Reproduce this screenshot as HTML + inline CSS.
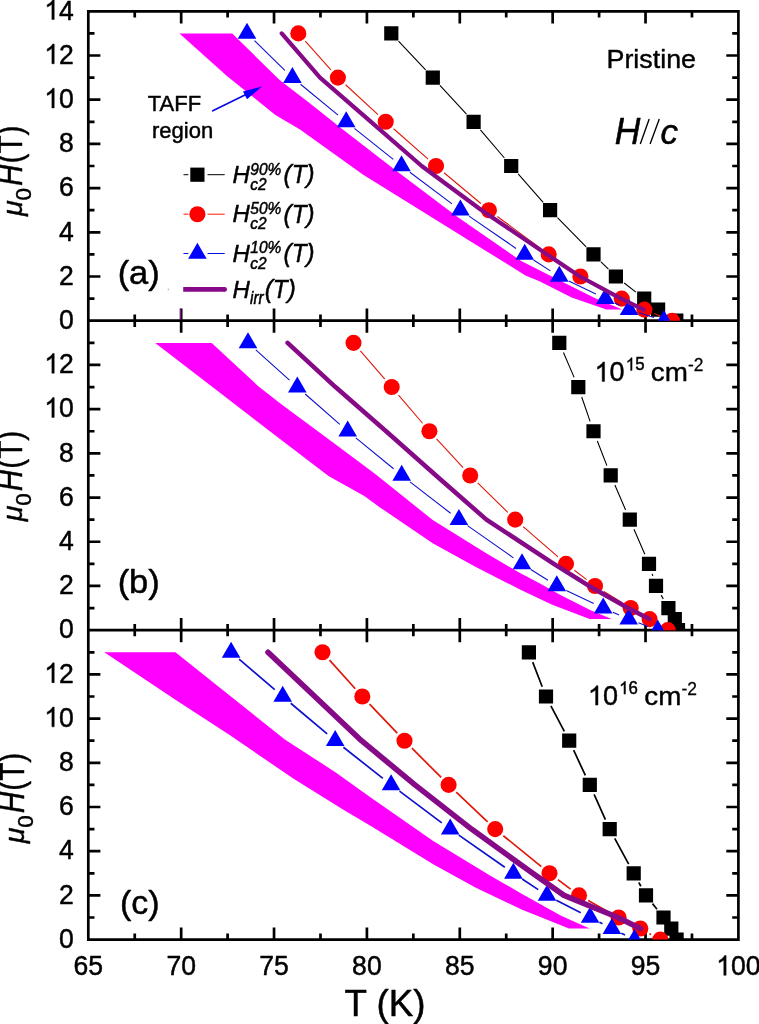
<!DOCTYPE html>
<html><head><meta charset="utf-8"><title>Hc2 phase diagram</title>
<style>html,body{margin:0;padding:0;background:#fff;}body{width:759px;height:1024px;overflow:hidden;}svg{display:block;font-family:"Liberation Sans", sans-serif;will-change:transform;}text{font-family:"Liberation Sans", sans-serif;fill:#000;stroke:#000;stroke-width:0.45px;stroke-linejoin:round;}</style></head><body>
<svg width="759" height="1024" viewBox="0 0 759 1024">
<rect x="0" y="0" width="759" height="1024" fill="#ffffff"/>
<defs>
<clipPath id="clipa"><rect x="88.30" y="11.30" width="650.10" height="309.40"/></clipPath>
<clipPath id="clipb"><rect x="88.30" y="320.70" width="650.10" height="309.45"/></clipPath>
<clipPath id="clipc"><rect x="88.30" y="630.15" width="650.10" height="309.45"/></clipPath>
</defs>
<path d="M88.30 11.30 H738.40 V939.60 H88.30 Z M88.30 320.70 H738.40 M88.30 630.15 H738.40 M88.30 298.60 h6.20 M738.40 298.60 h-6.20 M88.30 276.50 h12.10 M738.40 276.50 h-12.10 M88.30 254.40 h6.20 M738.40 254.40 h-6.20 M88.30 232.30 h12.10 M738.40 232.30 h-12.10 M88.30 210.20 h6.20 M738.40 210.20 h-6.20 M88.30 188.10 h12.10 M738.40 188.10 h-12.10 M88.30 166.00 h6.20 M738.40 166.00 h-6.20 M88.30 143.90 h12.10 M738.40 143.90 h-12.10 M88.30 121.80 h6.20 M738.40 121.80 h-6.20 M88.30 99.70 h12.10 M738.40 99.70 h-12.10 M88.30 77.60 h6.20 M738.40 77.60 h-6.20 M88.30 55.50 h12.10 M738.40 55.50 h-12.10 M88.30 33.40 h6.20 M738.40 33.40 h-6.20 M88.30 608.05 h6.20 M738.40 608.05 h-6.20 M88.30 585.95 h12.10 M738.40 585.95 h-12.10 M88.30 563.85 h6.20 M738.40 563.85 h-6.20 M88.30 541.75 h12.10 M738.40 541.75 h-12.10 M88.30 519.65 h6.20 M738.40 519.65 h-6.20 M88.30 497.55 h12.10 M738.40 497.55 h-12.10 M88.30 475.45 h6.20 M738.40 475.45 h-6.20 M88.30 453.35 h12.10 M738.40 453.35 h-12.10 M88.30 431.25 h6.20 M738.40 431.25 h-6.20 M88.30 409.15 h12.10 M738.40 409.15 h-12.10 M88.30 387.05 h6.20 M738.40 387.05 h-6.20 M88.30 364.95 h12.10 M738.40 364.95 h-12.10 M88.30 342.85 h6.20 M738.40 342.85 h-6.20 M88.30 917.50 h6.20 M738.40 917.50 h-6.20 M88.30 895.40 h12.10 M738.40 895.40 h-12.10 M88.30 873.30 h6.20 M738.40 873.30 h-6.20 M88.30 851.20 h12.10 M738.40 851.20 h-12.10 M88.30 829.10 h6.20 M738.40 829.10 h-6.20 M88.30 807.00 h12.10 M738.40 807.00 h-12.10 M88.30 784.90 h6.20 M738.40 784.90 h-6.20 M88.30 762.80 h12.10 M738.40 762.80 h-12.10 M88.30 740.70 h6.20 M738.40 740.70 h-6.20 M88.30 718.60 h12.10 M738.40 718.60 h-12.10 M88.30 696.50 h6.20 M738.40 696.50 h-6.20 M88.30 674.40 h12.10 M738.40 674.40 h-12.10 M88.30 652.30 h6.20 M738.40 652.30 h-6.20 M134.74 11.30 v6.20 M134.74 314.50 v12.40 M134.74 623.95 v12.40 M134.74 939.60 v-6.20 M181.17 11.30 v12.10 M181.17 308.60 v24.20 M181.17 618.05 v24.20 M181.17 939.60 v-12.10 M227.61 11.30 v6.20 M227.61 314.50 v12.40 M227.61 623.95 v12.40 M227.61 939.60 v-6.20 M274.04 11.30 v12.10 M274.04 308.60 v24.20 M274.04 618.05 v24.20 M274.04 939.60 v-12.10 M320.48 11.30 v6.20 M320.48 314.50 v12.40 M320.48 623.95 v12.40 M320.48 939.60 v-6.20 M366.91 11.30 v12.10 M366.91 308.60 v24.20 M366.91 618.05 v24.20 M366.91 939.60 v-12.10 M413.35 11.30 v6.20 M413.35 314.50 v12.40 M413.35 623.95 v12.40 M413.35 939.60 v-6.20 M459.79 11.30 v12.10 M459.79 308.60 v24.20 M459.79 618.05 v24.20 M459.79 939.60 v-12.10 M506.22 11.30 v6.20 M506.22 314.50 v12.40 M506.22 623.95 v12.40 M506.22 939.60 v-6.20 M552.66 11.30 v12.10 M552.66 308.60 v24.20 M552.66 618.05 v24.20 M552.66 939.60 v-12.10 M599.09 11.30 v6.20 M599.09 314.50 v12.40 M599.09 623.95 v12.40 M599.09 939.60 v-6.20 M645.53 11.30 v12.10 M645.53 308.60 v24.20 M645.53 618.05 v24.20 M645.53 939.60 v-12.10 M691.96 11.30 v6.20 M691.96 314.50 v12.40 M691.96 623.95 v12.40 M691.96 939.60 v-6.20" fill="none" stroke="#000" stroke-width="2.70" stroke-linecap="butt" stroke-linejoin="miter"/>
<g clip-path="url(#clipa)">
<polygon points="232.2,33.4 279.6,80.1 306.3,100.4 342.2,129.0 394.9,169.7 457.9,217.3 521.2,261.0 540.0,270.6 563.7,282.4 595.3,298.2 622.2,309.6 606.4,309.6 571.6,297.4 540.0,281.6 525.4,275.4 472.7,242.7 420.0,210.0 363.2,174.8 300.0,129.5 275.4,114.9 226.9,75.9 179.5,33.4" fill="#ff00ff"/>
<path d="M398.49 41.05 L425.61 69.95 M439.92 85.32 L466.48 114.08 M480.40 129.80 L504.40 158.00 M518.14 173.88 L543.16 202.32 M557.46 217.69 L586.14 246.91 M600.97 261.77 L608.43 269.13 M624.18 282.96 L635.92 292.14" stroke="#000" stroke-width="1.10" fill="none"/>
<path d="M384.20 26.30h14.20v14.20h-14.20z M425.70 70.50h14.20v14.20h-14.20z M466.50 114.70h14.20v14.20h-14.20z M504.10 158.90h14.20v14.20h-14.20z M543.00 203.10h14.20v14.20h-14.20z M586.40 247.30h14.20v14.20h-14.20z M608.80 269.40h14.20v14.20h-14.20z M637.10 291.50h14.20v14.20h-14.20z M651.00 302.55h14.20v14.20h-14.20z M669.20 313.60h14.20v14.20h-14.20z" fill="#000"/>
<path d="M305.31 41.22 L330.89 69.78 M345.61 84.73 L377.99 114.67 M393.59 128.73 L428.11 159.07 M444.06 172.73 L480.84 203.47 M497.34 216.44 L540.26 248.16 M557.31 260.40 L571.79 270.50 M589.66 281.45 L612.44 293.65 M631.14 303.20 L634.96 305.05 M654.15 313.55 L662.25 316.80" stroke="#e01808" stroke-width="1.10" fill="none"/>
<g fill="#ff0000"><circle cx="298.30" cy="33.40" r="8.05"/><circle cx="337.90" cy="77.60" r="8.05"/><circle cx="385.70" cy="121.80" r="8.05"/><circle cx="436.00" cy="166.00" r="8.05"/><circle cx="488.90" cy="210.20" r="8.05"/><circle cx="548.70" cy="254.40" r="8.05"/><circle cx="580.40" cy="276.50" r="8.05"/><circle cx="621.70" cy="298.60" r="8.05"/><circle cx="644.40" cy="309.65" r="8.05"/><circle cx="672.00" cy="320.70" r="8.05"/></g>
<path d="M254.52 40.72 L284.88 70.28 M300.51 84.27 L338.09 115.13 M354.40 128.36 L393.30 159.44 M409.90 172.30 L452.00 203.90 M469.05 216.15 L516.05 248.45 M533.55 260.05 L550.45 270.85 M568.76 281.05 L595.84 294.05 M614.82 303.02 L619.58 305.23 M639.11 312.83 L653.89 317.52" stroke="#1010d0" stroke-width="1.10" fill="none"/>
<path d="M247.00 22.73L256.30 38.73L237.70 38.73z M292.40 66.93L301.70 82.93L283.10 82.93z M346.20 111.13L355.50 127.13L336.90 127.13z M401.50 155.33L410.80 171.33L392.20 171.33z M460.40 199.53L469.70 215.53L451.10 215.53z M524.70 243.73L534.00 259.73L515.40 259.73z M559.30 265.83L568.60 281.83L550.00 281.83z M605.30 287.93L614.60 303.93L596.00 303.93z M629.10 298.98L638.40 314.98L619.80 314.98z M663.90 310.03L673.20 326.03L654.60 326.03z" fill="#0000ff"/>
<path d="M281.70 33.40 L320.00 77.60 L371.00 121.80 L421.70 166.00 L481.60 210.20 L547.00 254.40 L580.00 276.50 L621.00 298.60 L643.50 309.65" stroke="#860a88" stroke-width="4.20" fill="none" stroke-linejoin="round" stroke-linecap="round"/>
</g>
<g clip-path="url(#clipb)">
<polygon points="211.7,342.9 258.0,385.9 280.0,403.2 332.7,442.2 374.9,473.8 432.7,520.0 485.4,552.7 520.0,573.0 540.0,583.5 559.5,594.5 591.1,610.6 611.7,619.1 589.6,619.1 551.6,604.5 520.0,589.5 474.9,566.4 432.7,543.2 380.0,507.4 364.3,495.9 328.5,475.9 280.0,439.0 255.9,420.6 213.8,388.0 155.2,342.9" fill="#ff00ff"/>
<path d="M563.45 352.50 L574.15 377.40 M581.71 396.98 L590.09 421.32 M597.31 441.04 L606.89 465.66 M614.87 485.09 L625.63 510.01 M633.98 529.28 L644.82 554.22 M652.17 573.86 L652.83 575.94 M661.14 595.11 L663.26 598.89" stroke="#000" stroke-width="1.10" fill="none"/>
<path d="M552.20 335.75h14.20v14.20h-14.20z M571.20 379.95h14.20v14.20h-14.20z M586.40 424.15h14.20v14.20h-14.20z M603.60 468.35h14.20v14.20h-14.20z M622.70 512.55h14.20v14.20h-14.20z M641.90 556.75h14.20v14.20h-14.20z M648.90 578.85h14.20v14.20h-14.20z M661.30 600.95h14.20v14.20h-14.20z M667.70 612.00h14.20v14.20h-14.20z M670.90 623.05h14.20v14.20h-14.20z" fill="#000"/>
<path d="M360.37 350.79 L384.83 379.11 M398.51 395.04 L422.59 423.26 M436.52 438.97 L463.08 467.73 M477.69 482.81 L507.71 512.29 M523.12 526.54 L558.08 556.96 M574.35 570.21 L586.65 579.59 M603.93 591.48 L621.77 602.52 M639.76 613.35 L640.54 613.80" stroke="#e01808" stroke-width="1.10" fill="none"/>
<g fill="#ff0000"><circle cx="353.50" cy="342.85" r="8.05"/><circle cx="391.70" cy="387.05" r="8.05"/><circle cx="429.40" cy="431.25" r="8.05"/><circle cx="470.20" cy="475.45" r="8.05"/><circle cx="515.20" cy="519.65" r="8.05"/><circle cx="566.00" cy="563.85" r="8.05"/><circle cx="595.00" cy="585.95" r="8.05"/><circle cx="630.70" cy="608.05" r="8.05"/><circle cx="649.60" cy="619.10" r="8.05"/><circle cx="667.80" cy="630.15" r="8.05"/></g>
<path d="M255.82 349.86 L289.48 380.04 M305.19 393.97 L339.81 424.33 M355.83 437.90 L393.57 468.80 M410.01 481.87 L450.59 513.23 M467.50 525.67 L513.40 557.83 M530.86 569.48 L547.94 580.32 M566.28 590.47 L593.72 603.53 M612.83 612.22 L619.07 614.93 M638.51 622.84 L647.89 626.41" stroke="#1010d0" stroke-width="1.10" fill="none"/>
<path d="M248.00 332.18L257.30 348.18L238.70 348.18z M297.30 376.38L306.60 392.38L288.00 392.38z M347.70 420.58L357.00 436.58L338.40 436.58z M401.70 464.78L411.00 480.78L392.40 480.78z M458.90 508.98L468.20 524.98L449.60 524.98z M522.00 553.18L531.30 569.18L512.70 569.18z M556.80 575.28L566.10 591.28L547.50 591.28z M603.20 597.38L612.50 613.38L593.90 613.38z M628.70 608.43L638.00 624.43L619.40 624.43z M657.70 619.48L667.00 635.48L648.40 635.48z" fill="#0000ff"/>
<path d="M287.60 342.85 L335.50 387.05 L386.10 431.25 L436.00 475.45 L486.40 519.65 L553.80 563.85 L589.00 585.95 L628.00 608.05 L649.30 619.10" stroke="#860a88" stroke-width="4.50" fill="none" stroke-linejoin="round" stroke-linecap="round"/>
</g>
<g clip-path="url(#clipc)">
<polygon points="175.4,652.3 284.8,739.5 335.4,772.2 370.0,796.9 433.2,841.1 490.0,875.5 521.6,893.7 561.1,915.8 589.6,928.5 569.0,928.5 521.6,909.5 490.0,894.5 475.4,887.5 433.2,864.3 370.0,825.5 343.8,810.0 293.2,778.5 230.0,735.3 174.3,699.0 104.3,652.3" fill="#ff00ff"/>
<path d="M532.69 662.09 L542.21 686.71 M550.88 705.80 L564.32 731.40 M573.64 750.22 L585.36 775.38 M594.11 794.47 L605.39 819.53 M614.71 838.33 L628.69 864.07 M638.81 882.47 L640.89 886.23 M652.52 903.63 L656.98 909.27" stroke="#000" stroke-width="1.70" fill="none"/>
<path d="M521.80 645.20h14.20v14.20h-14.20z M538.90 689.40h14.20v14.20h-14.20z M562.10 733.60h14.20v14.20h-14.20z M582.70 777.80h14.20v14.20h-14.20z M602.60 822.00h14.20v14.20h-14.20z M626.60 866.20h14.20v14.20h-14.20z M638.90 888.30h14.20v14.20h-14.20z M656.40 910.40h14.20v14.20h-14.20z M664.20 921.45h14.20v14.20h-14.20z M669.50 932.50h14.20v14.20h-14.20z" fill="#000"/>
<path d="M329.53 660.10 L355.27 688.70 M369.55 704.09 L397.25 733.11 M411.92 748.13 L441.18 777.47 M456.22 792.13 L487.58 821.87 M503.34 835.73 L541.36 866.67 M557.90 879.60 L570.60 889.10 M588.17 900.52 L609.43 912.38 M627.96 922.26 L630.94 923.79 M649.49 933.63 L651.11 934.52" stroke="#e01808" stroke-width="1.70" fill="none"/>
<g fill="#ff0000"><circle cx="322.50" cy="652.30" r="8.05"/><circle cx="362.30" cy="696.50" r="8.05"/><circle cx="404.50" cy="740.70" r="8.05"/><circle cx="448.60" cy="784.90" r="8.05"/><circle cx="495.20" cy="829.10" r="8.05"/><circle cx="549.50" cy="873.30" r="8.05"/><circle cx="579.00" cy="895.40" r="8.05"/><circle cx="618.60" cy="917.50" r="8.05"/><circle cx="640.30" cy="928.55" r="8.05"/><circle cx="660.30" cy="939.60" r="8.05"/></g>
<path d="M239.07 659.13 L274.73 689.67 M290.73 703.26 L327.17 733.94 M343.44 747.21 L382.86 778.39 M399.51 791.19 L441.79 822.81 M458.80 835.12 L504.80 867.28 M522.17 879.07 L538.23 889.63 M556.34 900.19 L580.76 912.71 M599.47 922.25 L602.53 923.80 M621.33 933.16 L625.07 934.99" stroke="#1010d0" stroke-width="1.70" fill="none"/>
<path d="M231.10 641.63L240.40 657.63L221.80 657.63z M282.70 685.83L292.00 701.83L273.40 701.83z M335.20 730.03L344.50 746.03L325.90 746.03z M391.10 774.23L400.40 790.23L381.80 790.23z M450.20 818.43L459.50 834.43L440.90 834.43z M513.40 862.63L522.70 878.63L504.10 878.63z M547.00 884.73L556.30 900.73L537.70 900.73z M590.10 906.83L599.40 922.83L580.80 922.83z M611.90 917.88L621.20 933.88L602.60 933.88z M634.50 928.93L643.80 944.93L625.20 944.93z" fill="#0000ff"/>
<path d="M268.00 652.30 L314.80 696.50 L361.50 740.70 L415.00 784.90 L471.50 829.10 L532.70 873.30 L564.00 895.40 L618.00 917.50 L640.30 928.55" stroke="#860a88" stroke-width="5.60" fill="none" stroke-linejoin="round" stroke-linecap="round"/>
</g>
<g transform="translate(59.11 328.95) scale(1.0000 1.0350)"><text x="0.00" y="0" font-size="26.6">0</text></g>
<g transform="translate(59.11 284.75) scale(1.0000 1.0350)"><text x="0.00" y="0" font-size="26.6">2</text></g>
<g transform="translate(59.11 240.55) scale(1.0000 1.0350)"><text x="0.00" y="0" font-size="26.6">4</text></g>
<g transform="translate(59.11 196.35) scale(1.0000 1.0350)"><text x="0.00" y="0" font-size="26.6">6</text></g>
<g transform="translate(59.11 152.15) scale(1.0000 1.0350)"><text x="0.00" y="0" font-size="26.6">8</text></g>
<g transform="translate(44.31 107.95) scale(1.0000 1.0350)"><path transform="translate(0.00 0) scale(0.012988 -0.012988)" d="M763 0H583V1147Q518 1085 412.5 1023Q307 961 223 930V1104Q374 1175 487 1276Q600 1377 647 1472H763Z" fill="#000" stroke="#000" stroke-width="34.6" stroke-linejoin="round"/><text x="14.79" y="0" font-size="26.6">0</text></g>
<g transform="translate(44.31 63.75) scale(1.0000 1.0350)"><path transform="translate(0.00 0) scale(0.012988 -0.012988)" d="M763 0H583V1147Q518 1085 412.5 1023Q307 961 223 930V1104Q374 1175 487 1276Q600 1377 647 1472H763Z" fill="#000" stroke="#000" stroke-width="34.6" stroke-linejoin="round"/><text x="14.79" y="0" font-size="26.6">2</text></g>
<g transform="translate(59.11 638.40) scale(1.0000 1.0350)"><text x="0.00" y="0" font-size="26.6">0</text></g>
<g transform="translate(59.11 594.20) scale(1.0000 1.0350)"><text x="0.00" y="0" font-size="26.6">2</text></g>
<g transform="translate(59.11 550.00) scale(1.0000 1.0350)"><text x="0.00" y="0" font-size="26.6">4</text></g>
<g transform="translate(59.11 505.80) scale(1.0000 1.0350)"><text x="0.00" y="0" font-size="26.6">6</text></g>
<g transform="translate(59.11 461.60) scale(1.0000 1.0350)"><text x="0.00" y="0" font-size="26.6">8</text></g>
<g transform="translate(44.31 417.40) scale(1.0000 1.0350)"><path transform="translate(0.00 0) scale(0.012988 -0.012988)" d="M763 0H583V1147Q518 1085 412.5 1023Q307 961 223 930V1104Q374 1175 487 1276Q600 1377 647 1472H763Z" fill="#000" stroke="#000" stroke-width="34.6" stroke-linejoin="round"/><text x="14.79" y="0" font-size="26.6">0</text></g>
<g transform="translate(44.31 373.20) scale(1.0000 1.0350)"><path transform="translate(0.00 0) scale(0.012988 -0.012988)" d="M763 0H583V1147Q518 1085 412.5 1023Q307 961 223 930V1104Q374 1175 487 1276Q600 1377 647 1472H763Z" fill="#000" stroke="#000" stroke-width="34.6" stroke-linejoin="round"/><text x="14.79" y="0" font-size="26.6">2</text></g>
<g transform="translate(59.11 947.85) scale(1.0000 1.0350)"><text x="0.00" y="0" font-size="26.6">0</text></g>
<g transform="translate(59.11 903.65) scale(1.0000 1.0350)"><text x="0.00" y="0" font-size="26.6">2</text></g>
<g transform="translate(59.11 859.45) scale(1.0000 1.0350)"><text x="0.00" y="0" font-size="26.6">4</text></g>
<g transform="translate(59.11 815.25) scale(1.0000 1.0350)"><text x="0.00" y="0" font-size="26.6">6</text></g>
<g transform="translate(59.11 771.05) scale(1.0000 1.0350)"><text x="0.00" y="0" font-size="26.6">8</text></g>
<g transform="translate(44.31 726.85) scale(1.0000 1.0350)"><path transform="translate(0.00 0) scale(0.012988 -0.012988)" d="M763 0H583V1147Q518 1085 412.5 1023Q307 961 223 930V1104Q374 1175 487 1276Q600 1377 647 1472H763Z" fill="#000" stroke="#000" stroke-width="34.6" stroke-linejoin="round"/><text x="14.79" y="0" font-size="26.6">0</text></g>
<g transform="translate(44.31 682.65) scale(1.0000 1.0350)"><path transform="translate(0.00 0) scale(0.012988 -0.012988)" d="M763 0H583V1147Q518 1085 412.5 1023Q307 961 223 930V1104Q374 1175 487 1276Q600 1377 647 1472H763Z" fill="#000" stroke="#000" stroke-width="34.6" stroke-linejoin="round"/><text x="14.79" y="0" font-size="26.6">2</text></g>
<g transform="translate(44.31 19.55) scale(1.0000 1.0350)"><path transform="translate(0.00 0) scale(0.012988 -0.012988)" d="M763 0H583V1147Q518 1085 412.5 1023Q307 961 223 930V1104Q374 1175 487 1276Q600 1377 647 1472H763Z" fill="#000" stroke="#000" stroke-width="34.6" stroke-linejoin="round"/><text x="14.79" y="0" font-size="26.6">4</text></g>
<g transform="translate(73.51 975.30) scale(1.0000 1.0350)"><text x="0.00" y="0" font-size="26.6">65</text></g>
<g transform="translate(166.38 975.30) scale(1.0000 1.0350)"><text x="0.00" y="0" font-size="26.6">70</text></g>
<g transform="translate(259.25 975.30) scale(1.0000 1.0350)"><text x="0.00" y="0" font-size="26.6">75</text></g>
<g transform="translate(352.12 975.30) scale(1.0000 1.0350)"><text x="0.00" y="0" font-size="26.6">80</text></g>
<g transform="translate(444.99 975.30) scale(1.0000 1.0350)"><text x="0.00" y="0" font-size="26.6">85</text></g>
<g transform="translate(537.86 975.30) scale(1.0000 1.0350)"><text x="0.00" y="0" font-size="26.6">90</text></g>
<g transform="translate(630.73 975.30) scale(1.0000 1.0350)"><text x="0.00" y="0" font-size="26.6">95</text></g>
<g transform="translate(716.21 975.30) scale(1.0000 1.0350)"><path transform="translate(0.00 0) scale(0.012988 -0.012988)" d="M763 0H583V1147Q518 1085 412.5 1023Q307 961 223 930V1104Q374 1175 487 1276Q600 1377 647 1472H763Z" fill="#000" stroke="#000" stroke-width="34.6" stroke-linejoin="round"/><text x="14.79" y="0" font-size="26.6">00</text></g>
<text x="344.5" y="1015.8" font-size="36.8">T (K)</text>
<text transform="translate(21.70 216.00) rotate(-90) scale(1.000 1.000)" font-family="&quot;Liberation Serif&quot;, serif" font-style="italic" font-size="28.5">&#956;</text>
<text transform="translate(31.00 200.50) rotate(-90) scale(1.000 1.000)" font-size="22.5">0</text>
<text transform="translate(21.70 186.00) rotate(-90) scale(0.900 1.040)" font-size="33" font-style="italic">H</text>
<text transform="translate(21.70 163.40) rotate(-90) scale(0.900 1.040)" font-size="33">(T)</text>
<text transform="translate(21.70 521.35) rotate(-90) scale(1.000 1.000)" font-family="&quot;Liberation Serif&quot;, serif" font-style="italic" font-size="28.5">&#956;</text>
<text transform="translate(31.00 505.85) rotate(-90) scale(1.000 1.000)" font-size="22.5">0</text>
<text transform="translate(21.70 491.35) rotate(-90) scale(0.900 1.040)" font-size="33" font-style="italic">H</text>
<text transform="translate(21.70 468.75) rotate(-90) scale(0.900 1.040)" font-size="33">(T)</text>
<text transform="translate(23.60 843.30) rotate(-90) scale(1.000 1.000)" font-family="&quot;Liberation Serif&quot;, serif" font-style="italic" font-size="28.5">&#956;</text>
<text transform="translate(32.90 827.80) rotate(-90) scale(1.000 1.000)" font-size="22.5">0</text>
<text transform="translate(23.60 813.30) rotate(-90) scale(0.900 1.040)" font-size="33" font-style="italic">H</text>
<text transform="translate(23.60 790.70) rotate(-90) scale(0.900 1.040)" font-size="33">(T)</text>
<text transform="translate(606.46 68.18) scale(0.8956 0.8818)" font-size="30" >Pristine</text>
<text transform="translate(614.87 143.80) scale(1.1807 1.2024)" font-size="30" font-style="italic" >H</text>
<path d="M640.3 143.9L649.2 119.1M650.1 143.9L659.3 119.1" stroke="#000" stroke-width="1.35" fill="none"/>
<text transform="translate(660.53 144.01) scale(1.1670 1.1481)" font-size="30" font-style="italic" >c</text>
<g transform="translate(594.50 381.40) scale(1.0000 1.0000)"><path transform="translate(0.00 0) scale(0.013184 -0.013184)" d="M763 0H583V1147Q518 1085 412.5 1023Q307 961 223 930V1104Q374 1175 487 1276Q600 1377 647 1472H763Z" fill="#000" stroke="#000" stroke-width="34.1" stroke-linejoin="round"/><text x="15.02" y="0" font-size="27">0</text></g>
<g transform="translate(625.80 370.40) scale(1.0000 1.0500)"><path transform="translate(0.00 0) scale(0.008203 -0.008203)" d="M763 0H583V1147Q518 1085 412.5 1023Q307 961 223 930V1104Q374 1175 487 1276Q600 1377 647 1472H763Z" fill="#000" stroke="#000" stroke-width="54.9" stroke-linejoin="round"/><text x="9.34" y="0" font-size="16.8">5</text></g>
<text transform="translate(650.84 381.18) scale(0.9279 0.8611)" font-size="30" >cm</text>
<text transform="translate(688.00 371.00) scale(0.5811 0.5857)" font-size="30" >-2</text>
<g transform="translate(587.90 705.10) scale(1.0000 1.0000)"><path transform="translate(0.00 0) scale(0.013184 -0.013184)" d="M763 0H583V1147Q518 1085 412.5 1023Q307 961 223 930V1104Q374 1175 487 1276Q600 1377 647 1472H763Z" fill="#000" stroke="#000" stroke-width="34.1" stroke-linejoin="round"/><text x="15.02" y="0" font-size="27">0</text></g>
<g transform="translate(619.20 694.10) scale(1.0000 1.0500)"><path transform="translate(0.00 0) scale(0.008203 -0.008203)" d="M763 0H583V1147Q518 1085 412.5 1023Q307 961 223 930V1104Q374 1175 487 1276Q600 1377 647 1472H763Z" fill="#000" stroke="#000" stroke-width="54.9" stroke-linejoin="round"/><text x="9.34" y="0" font-size="16.8">6</text></g>
<text transform="translate(644.24 704.88) scale(0.9279 0.8611)" font-size="30" >cm</text>
<text transform="translate(681.40 694.70) scale(0.5811 0.5857)" font-size="30" >-2</text>
<text transform="translate(117.64 284.01) scale(1.1498 1.1179)" font-size="30" >(a)</text>
<text transform="translate(117.64 593.46) scale(1.1498 1.1179)" font-size="30" >(b)</text>
<text transform="translate(119.97 914.11) scale(1.1360 1.1179)" font-size="30" >(c)</text>
<text x="174.5" y="110.5" font-size="22" text-anchor="middle">TAFF</text>
<text x="182.6" y="138.2" font-size="22" text-anchor="middle">region</text>
<path d="M212.8 110.8 L248 93.6" stroke="#0808e8" stroke-width="1.7" stroke-linecap="round" fill="none"/>
<path d="M262.2 86.5 L243 91.4 L247 99.2 Z" fill="#0000ff"/>
<path d="M183.5 174.7H188.4M207.5 174.7H224.7" stroke="#000" stroke-width="1" fill="none"/>
<rect x="190.30" y="167.60" width="14.20" height="14.20" fill="#000"/>
<path d="M183.5 214.2H188.4M207.5 214.2H224.7" stroke="#ff1a00" stroke-width="1" fill="none"/>
<circle cx="197.40" cy="214.20" r="8.05" fill="#ff0000"/>
<path d="M183.5 253.5H188.4M207.5 253.5H224.7" stroke="#0010e0" stroke-width="1" fill="none"/>
<path d="M197.40 242.83L206.70 258.83L188.10 258.83z" fill="#0000ff"/>
<path d="M183.2 289.4H224.6" stroke="#860a88" stroke-width="4.8" fill="none"/><circle cx="224.6" cy="289.4" r="2.4" fill="#860a88"/>
<text transform="translate(232.50 183.00) scale(1 1.030)" font-size="24" font-style="italic">H</text>
<text transform="translate(250.30 174.50) scale(1 1.100)" font-size="15.5" font-style="italic">90%</text>
<text transform="translate(250.30 190.10) scale(1 1.120)" font-size="15.5" font-style="italic">c2</text>
<text transform="translate(283.60 183.20) scale(1 1.035)" font-size="24.3" font-style="italic">(T)</text>
<text transform="translate(232.50 222.30) scale(1 1.030)" font-size="24" font-style="italic">H</text>
<text transform="translate(250.30 213.80) scale(1 1.100)" font-size="15.5" font-style="italic">50%</text>
<text transform="translate(250.30 229.40) scale(1 1.120)" font-size="15.5" font-style="italic">c2</text>
<text transform="translate(283.60 222.50) scale(1 1.035)" font-size="24.3" font-style="italic">(T)</text>
<text transform="translate(232.50 261.50) scale(1 1.030)" font-size="24" font-style="italic">H</text>
<text transform="translate(250.30 253.00) scale(1 1.100)" font-size="15.5" font-style="italic">10%</text>
<text transform="translate(250.30 268.60) scale(1 1.120)" font-size="15.5" font-style="italic">c2</text>
<text transform="translate(283.60 261.70) scale(1 1.035)" font-size="24.3" font-style="italic">(T)</text>
<text transform="translate(232.50 297.60) scale(1 1.030)" font-size="24" font-style="italic">H</text>
<text transform="translate(250.00 304.30) scale(1 1.150)" font-size="15.5" font-style="italic">irr</text>
<text transform="translate(264.70 297.90) scale(1 1.035)" font-size="24.3" font-style="italic">(T)</text>
<rect x="167.8" y="288.6" width="0.9" height="1.8" fill="#b090b8"/>
<path d="M180.45 308.6V319.4" stroke="#9010a0" stroke-width="1.3" fill="none"/>
</svg></body></html>
